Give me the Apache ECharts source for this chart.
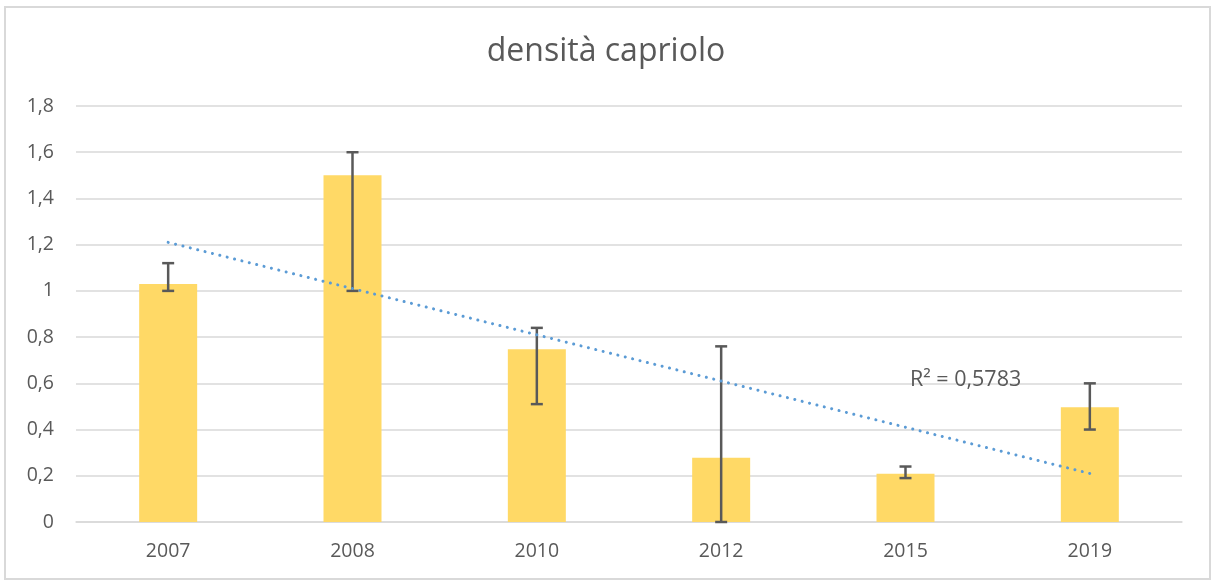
<!DOCTYPE html>
<html>
<head>
<meta charset="utf-8">
<script src="https://cdn.jsdelivr.net/npm/echarts@6/dist/echarts.min.js"></script>
<style>
  html, body { margin: 0; padding: 0; background: #fff; }
  #chart { width: 1212px; height: 580px; }
</style>
</head>
<body>
<div id="chart"></div>
<script>
    'use strict'

    /* Chart data */
    var years = ['2007', '2008', '2010', '2012', '2015', '2019'];
    var density = [1.03, 1.50, 0.748, 0.278, 0.209, 0.496];
    var errLow = [1.00, 1.00, 0.51, 0.00, 0.19, 0.40];
    var errHigh = [1.12, 1.60, 0.84, 0.76, 0.24, 0.60];
    // trendline end points (first and last year)
    var trend = [1.21, null, null, null, null, 0.21];
    var r2Label = 'R² = 0,5783';

    var errData = years.map(function (y, i) {
        return [i, errLow[i], errHigh[i]];
    });

    var chart = echarts.init(document.getElementById('chart'));

    var option = {
        animation: false,
        backgroundColor: '#fff',
        textStyle: { fontFamily: 'Open Sans' },
        title: {
            text: 'densità capriolo',
            left: 'center',
            top: 31,
            textStyle: {
                fontFamily: 'Open Sans',
                fontSize: 32,
                fontWeight: 'normal',
                color: '#595959'
            }
        },
        grid: {
            top: 106,
            left: 76,
            right: 30,
            bottom: 58
        },
        xAxis: {
            type: 'category',
            data: years,
            axisLine: { lineStyle: { color: '#d9d9d9', width: 1.5 } },
            axisTick: { show: false },
            axisLabel: {
                fontSize: 19.5,
                color: '#595959',
                margin: 19
            }
        },
        yAxis: {
            type: 'value',
            min: 0,
            max: 1.8,
            interval: 0.2,
            axisLine: { show: false },
            axisTick: { show: false },
            splitLine: { lineStyle: { color: '#d9d9d9', width: 1.5 } },
            axisLabel: {
                fontSize: 19.5,
                color: '#595959',
                margin: 22,
                formatter: function (v) {
                    return String(Math.round(v * 10) / 10).replace('.', ',');
                }
            }
        },
        graphic: [
            {
                type: 'rect',
                shape: { x: 5, y: 7, width: 1205, height: 572 },
                style: { fill: 'none', stroke: '#d9d9d9', lineWidth: 2 },
                silent: true
            },
            {
                type: 'text',
                left: 910,
                top: 369,
                style: {
                    text: r2Label,
                    fontFamily: 'Open Sans',
                    fontSize: 21.5,
                    fill: '#595959'
                },
                z: 10
            }
        ],
        series: [
            {
                name: 'densità',
                type: 'bar',
                data: density,
                barWidth: 58,
                itemStyle: { color: '#FFD966' }
            },
            {
                name: 'errore',
                type: 'custom',
                data: errData,
                z: 5,
                renderItem: function (params, api) {
                    var lo = api.coord([api.value(0), api.value(1)]);
                    var hi = api.coord([api.value(0), api.value(2)]);
                    var half = 6;
                    var st = { stroke: '#595959', lineWidth: 2.5, fill: 'none' };
                    return {
                        type: 'group',
                        children: [
                            { type: 'line', shape: { x1: lo[0], y1: lo[1], x2: hi[0], y2: hi[1] }, style: st },
                            { type: 'line', shape: { x1: lo[0] - half, y1: lo[1], x2: lo[0] + half, y2: lo[1] }, style: st },
                            { type: 'line', shape: { x1: hi[0] - half, y1: hi[1], x2: hi[0] + half, y2: hi[1] }, style: st }
                        ]
                    };
                }
            },
            {
                name: 'trend',
                type: 'line',
                data: trend,
                connectNulls: true,
                symbol: 'none',
                z: 6,
                lineStyle: {
                    color: '#5B9BD5',
                    width: 3,
                    type: [0.1, 7.5],
                    cap: 'round'
                }
            }
        ]
    };

    chart.setOption(option);
</script>
</body>
</html>
